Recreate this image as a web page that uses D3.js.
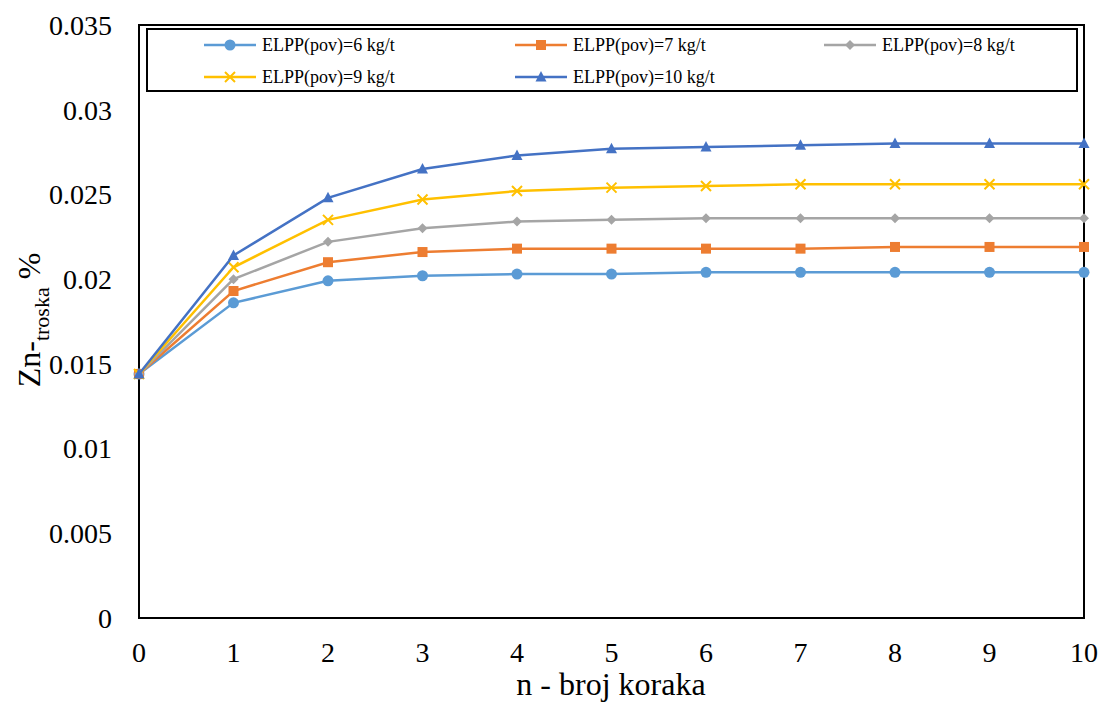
<!DOCTYPE html>
<html><head><meta charset="utf-8">
<script src="https://cdn.jsdelivr.net/npm/d3@7"></script>
<style>body{margin:0;background:#fff}svg{display:block}</style>
</head><body>
<script>
const steps = [0,1,2,3,4,5,6,7,8,9,10];
const seriesNames = ["ELPP(pov)=6 kg/t","ELPP(pov)=7 kg/t","ELPP(pov)=8 kg/t","ELPP(pov)=9 kg/t","ELPP(pov)=10 kg/t"];
const elpp6  = [0.0144,0.0186,0.0199,0.0202,0.0203,0.0203,0.0204,0.0204,0.0204,0.0204,0.0204];
const elpp7  = [0.0144,0.0193,0.0210,0.0216,0.0218,0.0218,0.0218,0.0218,0.0219,0.0219,0.0219];
const elpp8  = [0.0144,0.0200,0.0222,0.0230,0.0234,0.0235,0.0236,0.0236,0.0236,0.0236,0.0236];
const elpp9  = [0.0144,0.0207,0.0235,0.0247,0.0252,0.0254,0.0255,0.0256,0.0256,0.0256,0.0256];
const elpp10 = [0.0144,0.0214,0.0248,0.0265,0.0273,0.0277,0.0278,0.0279,0.0280,0.0280,0.0280];
const yTicks = [0,0.005,0.01,0.015,0.02,0.025,0.03,0.035];
const xTicks = [0,1,2,3,4,5,6,7,8,9,10];
const colors = ["#5B9BD5","#ED7D31","#A5A5A5","#FFC000","#4472C4"];
const shapes = ["circle","square","diamond","x","triangle"];
const allSeries = [elpp6,elpp7,elpp8,elpp9,elpp10];

const FONT = "'Liberation Serif', 'Times New Roman', Tinos, 'Nimbus Roman', 'DejaVu Serif', serif";
const W=1101,H=704;
const svg=d3.select("body").append("svg").attr("width",W).attr("height",H)
  .style("font-family",FONT).attr("font-family",FONT);
const L=139,R=1084,T=25,B=618;
const x=d3.scaleLinear().domain([0,10]).range([L,R]);
const y=d3.scaleLinear().domain([0,0.035]).range([B,T]);

// y tick labels
svg.append("g").selectAll("text").data(yTicks).join("text")
  .attr("x",112).attr("y",d=>y(d)).attr("dy","0.35em").attr("text-anchor","end")
  .attr("font-size",28).style("font-family",FONT).text(d=>String(+d.toFixed(3)));
// x tick labels
svg.append("g").selectAll("text").data(xTicks).join("text")
  .attr("x",d=>x(d)).attr("y",662).attr("text-anchor","middle")
  .attr("font-size",28).style("font-family",FONT).text(d=>d);

// axis titles
svg.append("text").attr("x",611).attr("y",695).attr("text-anchor","middle")
  .attr("font-size",32).style("font-family",FONT).text("n - broj koraka");
const yt=svg.append("text").attr("transform","translate(40,320) rotate(-90)").attr("text-anchor","middle").attr("font-size",32).style("font-family",FONT);
yt.append("tspan").text("Zn-");
yt.append("tspan").attr("font-size",22).attr("dy",9).text("troska");
yt.append("tspan").attr("dy",-9).text(" %");

// plot border
svg.append("rect").attr("x",L).attr("y",T).attr("width",R-L).attr("height",B-T)
  .attr("fill","none").attr("stroke","#000").attr("stroke-width",2);

function marker(g,shape,color){
  if(shape==="circle") g.append("circle").attr("r",5.5).attr("fill",color);
  else if(shape==="square") g.append("rect").attr("x",-5).attr("y",-5).attr("width",10).attr("height",10).attr("fill",color);
  else if(shape==="diamond") g.append("path").attr("d","M0,-5L5,0L0,5L-5,0Z").attr("fill",color);
  else if(shape==="triangle") g.append("path").attr("d","M0,-6L5.5,4.5L-5.5,4.5Z").attr("fill",color);
  else if(shape==="x") g.append("path").attr("d","M-5,-5L5,5M-5,5L5,-5").attr("stroke",color).attr("stroke-width",2).attr("fill","none");
}

const line=d3.line().x((d,i)=>x(steps[i])).y(d=>y(d));
allSeries.forEach((s,k)=>{
  const g=svg.append("g");
  g.append("path").attr("d",line(s)).attr("fill","none").attr("stroke",colors[k]).attr("stroke-width",2.5);
  s.forEach((v,i)=>{
    const m=g.append("g").attr("transform",`translate(${x(steps[i])},${y(v)})`);
    marker(m,shapes[k],colors[k]);
  });
});

// legend
svg.append("rect").attr("x",147).attr("y",29).attr("width",930).attr("height",62)
  .attr("fill","#fff").attr("stroke","#000").attr("stroke-width",2);
const legPos=[[204,45],[515,45],[824,45],[204,77],[515,77]];
seriesNames.forEach((n,k)=>{
  const [lx,ly]=legPos[k];
  const g=svg.append("g");
  g.append("line").attr("x1",lx).attr("x2",lx+52).attr("y1",ly).attr("y2",ly).attr("stroke",colors[k]).attr("stroke-width",2.5);
  const m=g.append("g").attr("transform",`translate(${lx+26},${ly})`);
  marker(m,shapes[k],colors[k]);
  g.append("text").attr("x",lx+58).attr("y",ly).attr("dy","0.35em").attr("font-size",18).style("font-family",FONT).text(n);
});
</script>
</body></html>
